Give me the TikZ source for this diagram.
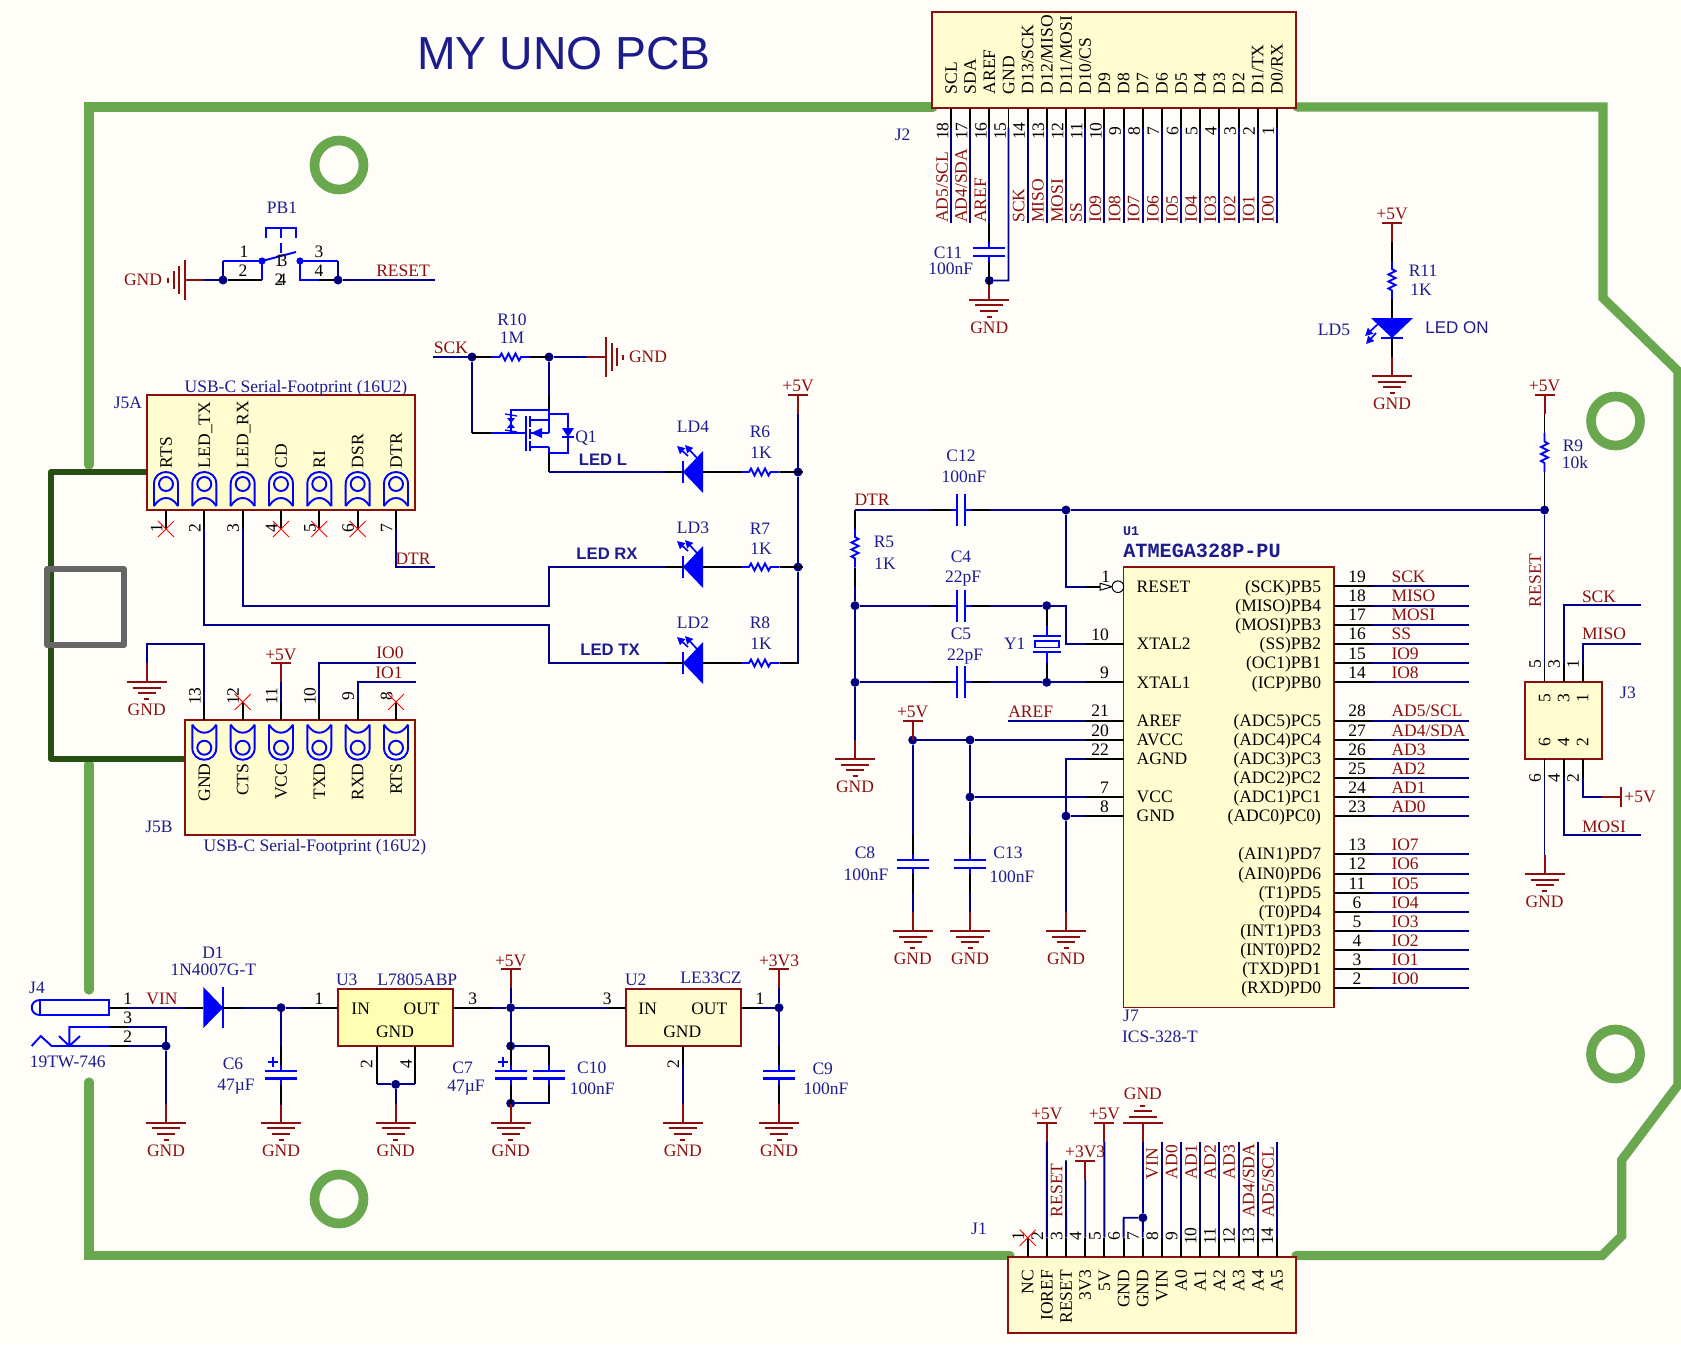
\documentclass[tikz,border=0pt]{standalone}
\usepackage{fontspec}
\setmainfont{Liberation Serif}
\setsansfont{Liberation Sans}
\setmonofont{Liberation Mono}
\usetikzlibrary{arrows.meta}
\definecolor{bgc}{HTML}{FFFDF8}
\definecolor{boardc}{HTML}{6AA84F}
\definecolor{usbc}{HTML}{274E13}
\definecolor{grayc}{HTML}{666666}
\definecolor{wirec}{HTML}{00008B}
\definecolor{dotc}{HTML}{000080}
\definecolor{desc}{HTML}{1C1C8C}
\definecolor{redc}{HTML}{8B0F0F}
\definecolor{bodyc}{HTML}{FFFDD0}
\definecolor{bodyu}{HTML}{FFFFB4}
\definecolor{symc}{HTML}{0000FF}
\newcount\nidc
\newcommand{\Txt}[4][des]{\global\advance\nidc by 1 \node[#1] (t\the\nidc) at (#2,#3) {#4};}
\newcommand{\Cpt}[3]{\coordinate (#1) at (#2,#3);}
\newcommand{\Jn}[3]{\node[junction] (#1) at (#2,#3) {};}
\newcommand{\Bdy}[6][bodybox]{\node[#1,minimum width={(#5-#3)*0.6pt},minimum height={(#6-#4)*0.6pt}] (#2) at ({(#3+#5)/2},{(#4+#6)/2}) {};}
\newcommand{\Rcomp}[4]{\begin{scope}[shift={(#2,#3)},rotate=#4]
 \draw[sym,line join=miter] (-19.5,0)--(-11,0)--(-9,-3.5)--(-5.5,3.5)--(-2,-3.5)--(1.5,3.5)--(5,-3.5)--(8.5,3.5)--(10.5,0)--(19.5,0);
 \coordinate (#1-a) at (-38.5,0);\coordinate (#1-b) at (38.5,0);\coordinate (#1-c) at (-19.5,0);\coordinate (#1-d) at (19.5,0);
 \draw[pinl] (#1-a)--(#1-c) (#1-d)--(#1-b);
 \end{scope}}
\newcommand{\Ccomp}[4]{\begin{scope}[shift={(#2,#3)},rotate=#4]
 \draw[sym,line width=1.3pt] (-3.9,-16)--(-3.9,16) (3.9,-16)--(3.9,16);
 \draw[sym] (-3.9,0)--(-10,0) (3.9,0)--(10,0);
 \coordinate (#1-a) at (-29,0);\coordinate (#1-b) at (29,0);\coordinate (#1-c) at (-10,0);\coordinate (#1-d) at (10,0);
 \draw[pinl] (#1-a)--(#1-c) (#1-d)--(#1-b);
 \end{scope}}
\newcommand{\LEDc}[4]{\begin{scope}[shift={(#2,#3)},rotate=#4]
 \fill[symc] (0,0)--(20,-21)--(20,21)--cycle;
 \draw[sym] (0,-11)--(0,11);
 \draw[ledarrow] (5,-16)--(-6,-26);
 \draw[ledarrow] (14,-14)--(2,-27);
 \coordinate (#1-a) at (-18,0);\coordinate (#1-b) at (39,0);\coordinate (#1-c) at (0,0);\coordinate (#1-d) at (20,0);
 \draw[pinl] (#1-a)--(#1-c) (#1-d)--(#1-b);
 \end{scope}}
\newcommand{\GndS}[4]{\begin{scope}[shift={(#2,#3)},rotate=#4]
 \draw[pwrl] (0,-19)--(0,0) (-20,0)--(20,0) (-14,5.7)--(14,5.7) (-9,11.4)--(9,11.4) (-2.5,17)--(2.5,17);
 \coordinate (#1-t) at (0,-19);
 \end{scope}}
\newcommand{\Gnd}[3]{\GndS{#1}{#2}{#3}{0}\node[netl] (#1-l) at (#2,{#3+28}) {GND};}
\newcommand{\Pwr}[4]{\draw[pwrl] ({#2-10},#3)--({#2+10},#3) (#2,#3)--(#2,{#3+19});\coordinate (#1-t) at (#2,{#3+19});\node[netl] (#1-l) at (#2,{#3-9}) {#4};}
\newcommand{\XX}[2]{\draw[xmark] ({#1-8},{#2-8})--({#1+8},{#2+8}) ({#1-8},{#2+8})--({#1+8},{#2-8});}
\newcommand{\PadS}[2]{\begin{scope}[shift={(#1,#2)}]
 \draw[sym] (0,0) circle[radius=7];
 \draw[sym] (-12,22)--(-12,0) .. controls (-12,-8) and (-6,-12) .. (0,-12) .. controls (6,-12) and (12,-8) .. (12,0)--(12,22);
 \draw[sym] (-12,22) .. controls (-8,16) and (-4,14) .. (0,14) .. controls (4,14) and (8,16) .. (12,22);
 \end{scope}}
\newcommand{\PadF}[2]{\begin{scope}[shift={(#1,#2)},yscale=-1]
 \draw[sym] (0,0) circle[radius=7];
 \draw[sym] (-12,23)--(-12,0) .. controls (-12,-8) and (-6,-12) .. (0,-12) .. controls (6,-12) and (12,-8) .. (12,0)--(12,23);
 \draw[sym] (-12,23) .. controls (-8,17) and (-4,15) .. (0,15) .. controls (4,15) and (8,17) .. (12,23);
 \end{scope}}
\tikzset{
 base/.style={inner sep=0pt,outer sep=0pt,text height=6.9pt,text depth=0pt,font=\fontsize{10.5}{12}\selectfont},
 des/.style={base,text=desc},
 netl/.style={base,text=redc},
 pinn/.style={base,text=black},
 wire/.style={draw=wirec,line width=1.15pt,line join=miter},
 pinl/.style={draw=black,line width=1.15pt},
 pwrl/.style={draw=redc,line width=1.2pt},
 sym/.style={draw=symc,line width=1.15pt},
 ledarrow/.style={draw=symc,line width=1pt,-{Triangle[length=4.6pt,width=4.6pt]}},
 xmark/.style={draw=red,line width=.5pt},
 junction/.style={circle,fill=dotc,inner sep=0pt,outer sep=0pt,minimum size=5.4pt},
 bodybox/.style={draw=redc,fill=bodyc,line width=1.3pt,inner sep=0pt,outer sep=0pt},
 thinbox/.style={draw=redc,fill=bodyc,line width=.8pt,inner sep=0pt,outer sep=0pt},
 board/.style={draw=boardc,line width=5.5pt,line cap=round,line join=miter},
 usb/.style={draw=usbc,line width=3.6pt,line cap=round,line join=round},
 usbgray/.style={draw=grayc,line width=3.2pt,line join=round},
 hole/.style={circle,draw=boardc,line width=5.8pt,minimum size=29.4pt,inner sep=0pt,outer sep=0pt},
 title/.style={inner sep=0pt,outer sep=0pt,text=desc,font=\sffamily\fontsize{27.8}{30}\selectfont},
 ledlab/.style={inner sep=0pt,outer sep=0pt,text=desc,text height=6.9pt,text depth=0pt,font=\sffamily\bfseries\fontsize{10}{12}\selectfont},
 ledon/.style={inner sep=0pt,outer sep=0pt,text=desc,text height=6.9pt,text depth=0pt,font=\sffamily\fontsize{10.2}{12}\selectfont},
 mono/.style={inner sep=0pt,outer sep=0pt,text=desc,font=\ttfamily\bfseries\fontsize{12.1}{13}\selectfont},
 monos/.style={inner sep=0pt,outer sep=0pt,text=desc,font=\ttfamily\bfseries\fontsize{8}{9}\selectfont},
}
\begin{document}
\begin{tikzpicture}[x=0.6pt,y=-0.6pt]
\useasboundingbox (0,0) rectangle (1681,1344);
\clip (0,0) rectangle (1681,1344);
\fill[bgc] (0,0) rectangle (1681,1344);
% ---- board outline
\Cpt{bA}{89}{465}\Cpt{bB}{89}{107}\Cpt{bC}{933}{107}\Cpt{bD}{1297}{107}\Cpt{bE}{1603}{107}\Cpt{bF}{1603}{298}\Cpt{bG}{1678}{371}\Cpt{bH}{1678}{1085}\Cpt{bI}{1621.7}{1160}\Cpt{bJ}{1621.7}{1236}\Cpt{bK}{1602}{1255.5}\Cpt{bL}{1296}{1255.5}\Cpt{bM}{1010}{1255.5}\Cpt{bN}{89}{1255.5}\Cpt{bO}{89}{1082}\Cpt{bP}{89}{990}\Cpt{bQ}{89}{764}
\draw[board] (bA)--(bB)--(bC);
\draw[board] (bD)--(bE)--(bF)--(bG)--(bH)--(bI)--(bJ)--(bK)--(bL);
\draw[board] (bM)--(bN)--(bO);
\draw[board] (bP)--(bQ);
\node[hole] (h1) at (339,165) {};
\node[hole] (h2) at (1615.5,421) {};
\node[hole] (h3) at (1615.5,1054) {};
\node[hole] (h4) at (339,1199) {};
\begin{scope}[shift={(0,1)}]
\node[title] (ttl) at (564,53) {MY UNO PCB};
% ---- USB outline
\Cpt{uA}{147}{471}\Cpt{uB}{51}{471}\Cpt{uC}{51}{758}\Cpt{uD}{186}{758}
\draw[usb] (uA)--(uB)--(uC)--(uD);
\draw[usbgray] (47,568) rectangle (124,644);
% ---- boxes
\Bdy{J5A}{147}{394}{415}{509}
\Bdy{J5B}{185}{719.3}{415}{834.3}
\Bdy{J2}{931.7}{11}{1296}{107.3}
\Bdy{J1}{1008}{1255.7}{1296}{1331.7}
\Bdy{J3}{1525}{681}{1602}{758}
\Bdy[thinbox]{J7}{1123.7}{566}{1334}{1006.7}
\Bdy[bodybox,fill=bodyu]{U3}{338.3}{987.7}{453.3}{1045}
\Bdy{U2}{625.7}{987.7}{740.7}{1045}
% ---- junctions
\Jn{jPBl}{223}{279}\Jn{jPBr}{338}{279}\Jn{jSCK}{472}{356}\Jn{jR10}{549}{356}
\Jn{j5Va}{798}{471}\Jn{j5Vb}{798}{566}\Jn{jDTRa}{1066}{509}\Jn{jDTRb}{1544.5}{509}
\Jn{jC4}{855}{604.7}\Jn{jC5}{855}{681.3}\Jn{jY1t}{1046.7}{604.7}\Jn{jY1b}{1046.7}{681.3}
\Jn{j5Vc}{912.7}{739}\Jn{jAV}{970}{739}\Jn{jVCC}{970}{796}\Jn{jGa}{1066}{815}
\Jn{jC11}{989.3}{279.5}\Jn{jJ1}{1142.9}{1216.7}\Jn{jJ4}{166}{1045}\Jn{jC6}{281}{1006.7}
\Jn{jU3}{395.7}{1083.3}\Jn{j5Vd}{510.7}{1006.7}\Jn{jC7t}{510.7}{1045}\Jn{jC7b}{510.7}{1102.3}\Jn{j3V3}{779}{1006.7}
% ---- PB1
\Txt{282}{207}{PB1}
\draw[sym] (266,237)--(266,227)--(296,227)--(296,237);
\draw[sym,dashed,dash pattern=on 6pt off 3pt] (281,227)--(281,256);
\fill[symc] (262,260) circle[radius=3.6];
\fill[symc] (300,260) circle[radius=3.6];
\draw[sym] (262,260)--(296,251);
\Cpt{pbA}{262}{260}\Cpt{pbB}{262}{279}\Cpt{pbC}{223}{260}\Cpt{pbD}{300}{260}\Cpt{pbE}{300}{279}\Cpt{pbF}{338}{260}\Cpt{pbG}{319}{279}
\draw[sym] (pbC)--(pbA)--(pbB);
\draw[pinl] (pbB)--(jPBl);
\draw[wire] (jPBl)--(pbC);
\draw[sym] (pbG)--(pbE)--(pbD)--(pbF);
\draw[wire] (pbF)--(jPBr);
\draw[pinl] (pbG)--(jPBr);
\Txt[pinn]{244}{251}{1}\Txt[pinn]{243}{270}{2}\Txt[pinn]{319}{251}{3}\Txt[pinn]{319}{270}{4}
\Txt[pinn]{279}{260}{1}\Txt[pinn]{283}{260}{3}\Txt[pinn]{279}{279}{2}\Txt[pinn]{282}{279}{4}
\GndS{gPB}{185}{279}{-90}
\Txt[netl]{143}{279}{GND}
\draw[wire] (gPB-t)--(jPBl);
\Cpt{rstE}{435}{279}
\draw[wire] (jPBr)--(rstE);
\Txt[netl]{403}{270}{RESET}
% ---- J5A
\Txt[des]{128}{402}{J5A}
\Txt[des]{296}{386}{USB-C Serial-Footprint (16U2)}
\foreach \i/\x/\nm in {1/166/RTS,2/204.3/LED\_TX,3/242.7/LED\_RX,4/281/CD,5/319.3/RI,6/357.7/DSR,7/396/DTR}{
 \PadS{\x}{483}
 \Txt[pinn,rotate=90,anchor=west]{\x}{467}{\nm}
 \Cpt{J5Ap\i}{\x}{509}\Cpt{J5Ae\i}{\x}{528}
 \draw[pinl] (J5Ap\i)--(J5Ae\i);
 \Txt[pinn,rotate=90]{\x-9.5}{527}{\i}
}
\XX{166}{528}\XX{281}{528}\XX{319.3}{528}\XX{357.7}{528}
\Cpt{dtrA}{396}{566}\Cpt{dtrB}{435}{566}
\draw[wire] (J5Ae7)--(dtrA)--(dtrB);
\Txt[netl]{413}{558}{DTR}
% ---- J5B
\Txt[des]{159}{825.7}{J5B}
\Txt[des]{315}{845}{USB-C Serial-Footprint (16U2)}
\foreach \i/\x/\nm in {13/204.3/GND,12/242.7/CTS,11/281/VCC,10/319.3/TXD,9/357.7/RXD,8/396/RTS}{
 \PadF{\x}{746.7}
 \Txt[pinn,rotate=90,anchor=east]{\x}{762.7}{\nm}
 \Cpt{J5Bp\i}{\x}{719.3}\Cpt{J5Be\i}{\x}{701}
 \draw[pinl] (J5Bp\i)--(J5Be\i);
 \Txt[pinn,rotate=90]{\x-9.5}{695}{\i}
}
\XX{242.7}{701}\XX{396}{701}
\Gnd{g13}{146.7}{681}
\Cpt{g13a}{146.7}{642.7}\Cpt{g13b}{204.3}{642.7}
\draw[wire] (J5Be13)--(g13b)--(g13a)--(g13-t);
\Pwr{pJ5}{281}{662.3}{+5V}
\draw[wire] (J5Be11)--(pJ5-t);
\Cpt{io0a}{319.3}{662.3}\Cpt{io0b}{415.7}{662.3}\Cpt{io1a}{357.7}{681}\Cpt{io1b}{415.7}{681}
\draw[wire] (J5Be10)--(io0a)--(io0b);
\draw[wire] (J5Be9)--(io1a)--(io1b);
\Txt[netl]{390}{652}{IO0}\Txt[netl]{389}{672}{IO1}
% ---- Q1 and LEDs
\Rcomp{R10}{510.5}{356}{0}
\Txt{512}{319}{R10}\Txt{512}{337}{1M}
\draw[wire] (jSCK)--(R10-a);
\draw[wire] (R10-b)--(jR10);
\Cpt{sckE}{433}{356}\draw[wire] (sckE)--(jSCK);
\Txt[netl]{451}{347}{SCK}
\GndS{gR10}{606}{356}{90}
\Txt[netl]{648}{356}{GND}
\draw[wire] (jR10)--(gR10-t);
\Cpt{qG}{472}{432}\Cpt{qH}{491}{432}\Cpt{qD}{549}{395}\Cpt{qDb}{549}{409}\Cpt{qS}{549}{452}\Cpt{qSb}{549}{471}
\draw[wire] (jSCK)--(qG);
\draw[pinl] (qG)--(qH);
\draw[wire] (jR10)--(qD);
\draw[pinl] (qD)--(qDb);
\draw[pinl] (qS)--(qSb);
\draw[sym] (qH)--(526,432) (526,415)--(526,450);
\draw[sym] (530,415)--(530,426) (530,428)--(530,438) (530,440)--(530,450);
\draw[sym] (530,419)--(549,419) (530,446)--(549,446) (530,432)--(549,432);
\draw[sym] (qDb)--(549,432) (549,446)--(qS);
\fill[symc] (531,432)--(542,427)--(542,437)--cycle;
\draw[sym] (549,413)--(568,413)--(568,452)--(549,452);
\fill[symc] (562,427)--(574,427)--(568,436)--cycle;
\draw[sym] (562,436)--(574,436);
\draw[sym] (qDb)--(511,409)--(511,432);
\fill[symc] (507,417)--(515,417)--(511,422)--cycle;
\fill[symc] (507,427)--(515,427)--(511,422)--cycle;
\draw[sym,line width=.8pt] (505,413)--(517,415) (505,429)--(517,431);
\Txt{586}{436}{Q1}
\Pwr{p5A}{798}{394}{+5V}
\LEDc{LD4}{683}{471}{0}\LEDc{LD3}{683}{566}{0}\LEDc{LD2}{683}{662}{0}
\Rcomp{R6}{760}{471}{0}\Rcomp{R7}{760}{566}{0}\Rcomp{R8}{760}{662}{0}
\Txt{693}{426}{LD4}\Txt{760}{431}{R6}\Txt{761}{452}{1K}
\Txt{693}{527}{LD3}\Txt{760}{528}{R7}\Txt{761}{548}{1K}
\Txt{693}{622}{LD2}\Txt{760}{622}{R8}\Txt{761}{643}{1K}
\Txt[ledlab]{603}{459}{LED L}\Txt[ledlab]{607}{553}{LED RX}\Txt[ledlab]{610}{649}{LED TX}
\draw[wire] (qSb)--(LD4-a);
\draw[pinl] (LD4-b)--(R6-a);\draw[pinl] (LD3-b)--(R7-a);\draw[pinl] (LD2-b)--(R8-a);
\draw[pinl] (R6-b)--(j5Va);\draw[pinl] (R7-b)--(j5Vb);
\Cpt{r8e}{798}{662}
\draw[pinl] (R8-b)--(r8e);
\draw[wire] (p5A-t)--(j5Va);\draw[wire] (j5Va)--(j5Vb);\draw[wire] (j5Vb)--(r8e);
\Cpt{w3a}{242.7}{605}\Cpt{w3b}{549}{605}\Cpt{w3c}{549}{566}
\draw[wire] (J5Ae3)--(w3a)--(w3b)--(w3c)--(LD3-a);
\Cpt{w2a}{204.3}{624}\Cpt{w2b}{549}{624}\Cpt{w2c}{549}{662}
\draw[wire] (J5Ae2)--(w2a)--(w2b)--(w2c)--(LD2-a);
% ---- LD5
\Pwr{pLD5}{1392}{222}{+5V}
\Rcomp{R11}{1392}{279}{-90}
\LEDc{LD5}{1392}{337}{90}
\Gnd{gLD5}{1392}{375}
\draw[pinl] (pLD5-t)--(R11-a);
\draw[wire] (LD5-a)--(gLD5-t);
\Txt{1423}{270}{R11}\Txt{1421}{289}{1K}\Txt{1334}{329}{LD5}\Txt[ledon]{1457}{327}{LED ON}
% ---- J2
\Txt{902.7}{134}{J2}
\foreach \n/\nm/\nt [count=\k from 0] in {18/SCL/{AD5/SCL},17/SDA/{AD4/SDA},16/AREF/AREF,15/GND/{},14/{D13/SCK}/SCK,13/{D12/MISO}/MISO,12/{D11/MOSI}/MOSI,11/{D10/CS}/SS,10/D9/IO9,9/D8/IO8,8/D7/IO7,7/D6/IO6,6/D5/IO5,5/D4/IO4,4/D3/IO3,3/D2/IO2,2/{D1/TX}/IO1,1/{D0/RX}/IO0}{
 \pgfmathsetmacro\xx{951+19.17*\k}
 \Txt[pinn,rotate=90,anchor=west]{\xx}{93}{\nm}
 \Txt[pinn,rotate=90]{\xx-8.5}{130}{\n}
 \Cpt{J2p\n}{\xx}{107.3}\Cpt{J2e\n}{\xx}{126.5}\Cpt{J2w\n}{\xx}{221.7}
 \draw[pinl] (J2p\n)--(J2e\n);
 \ifnum\n=15\relax\else
  \draw[wire] (J2e\n)--(J2w\n);
  \Txt[netl,rotate=90,anchor=west]{\xx-9}{221.7}{\nt}
 \fi
}
\Ccomp{C11}{989.3}{250.7}{-90}
\Txt{948}{251.7}{C11}\Txt{950.7}{268}{100nF}
\Gnd{gC11}{989.3}{298.5}
\draw[pinl] (C11-b)--(jC11);
\draw[wire] (jC11)--(gC11-t);
\Cpt{c15}{1008.5}{279.5}
\draw[wire] (J2e15)--(c15)--(jC11);
% ---- DTR / reset network
\Cpt{dtrL}{855}{509}
\Txt[netl]{872}{499}{DTR}
\Ccomp{C12}{961}{509}{0}\Ccomp{C4}{961}{604.7}{0}\Ccomp{C5}{961}{681.3}{0}
\Txt{961}{455}{C12}\Txt{964}{476}{100nF}
\Txt{961}{556}{C4}\Txt{963}{576}{22pF}
\Txt{961}{633}{C5}\Txt{965}{654}{22pF}
\draw[wire] (dtrL)--(C12-a);\draw[wire] (C12-b)--(jDTRa);\draw[wire] (jDTRa)--(jDTRb);
\Rcomp{R5}{855}{547}{-90}
\Txt{884}{541}{R5}\Txt{885}{563}{1K}
\draw[pinl] (dtrL)--(R5-a);
\draw[wire] (R5-b)--(jC4);\draw[wire] (jC4)--(jC5);
\draw[wire] (jC4)--(C4-a);\draw[wire] (jC5)--(C5-a);
\draw[wire] (C4-b)--(jY1t);\draw[wire] (C5-b)--(jY1b);
\Gnd{gR5}{855}{758}
\draw[wire] (jC5)--(gR5-t);
\Pwr{pR9}{1544.5}{394}{+5V}
\Rcomp{R9}{1544.5}{451.5}{-90}
\Txt{1573}{445}{R9}\Txt{1575}{462}{10k}
\draw[pinl] (pR9-t)--(R9-a);
\draw[pinl] (R9-b)--(jDTRb);
% Y1
\Cpt{y1a}{1046.7}{625}\Cpt{y1b}{1046.7}{635}\Cpt{y1c}{1046.7}{651}\Cpt{y1d}{1046.7}{662}
\draw[pinl] (jY1t)--(y1a);\draw[pinl] (jY1b)--(y1d);
\draw[sym] (y1a)--(y1b) (y1c)--(y1d);
\draw[sym] (1033,635)--(1060.5,635) (1033,651)--(1060.5,651);
\draw[sym] (1035,640)rectangle(1059,646.5);
\Txt{1014.7}{643}{Y1}
% ---- J7 left
\foreach \n/\y/\nm/\tx in {1/585.7/RESET/1105.7,10/643/XTAL2/1100,9/681.3/XTAL1/1104.5,21/719.7/AREF/1100,20/739/AVCC/1100,22/758/AGND/1100,7/796/VCC/1104.5,8/815/GND/1104.5}{
 \Txt[pinn,anchor=west]{1136.7}{\y}{\nm}
 \Txt[pinn]{\tx}{\y-9.5}{\n}
 \Cpt{J7L\n}{1123.7}{\y}\Cpt{J7M\n}{1086}{\y}
}
\foreach \n in {10,9,21,20,22,7,8}{\draw[pinl] (J7L\n)--(J7M\n);}
\Cpt{rsA}{1100}{585.7}\Cpt{rsB}{1112}{585.7}
\draw[pinl] (J7M1)--(rsA);
\draw[line width=.6pt,draw=black,fill=white] (1100,582.2)--(1112,585.7)--(1100,589.2)--cycle;
\draw[draw=black,line width=.6pt,fill=white] (1117.9,585.7) circle[radius=5.8];
\Cpt{rsC}{1066}{585.7}
\draw[wire] (jDTRa)--(rsC)--(J7M1);
\Cpt{xA}{1066}{604.7}\Cpt{xB}{1066}{643}
\draw[wire] (jY1t)--(xA)--(xB)--(J7M10);
\draw[wire] (jY1b)--(J7M9);
\Cpt{arE}{1008}{719.7}\draw[wire] (arE)--(J7M21);
\Txt[netl]{1030.7}{710.7}{AREF}
\Pwr{pC8}{912.7}{720}{+5V}
\draw[pwrl] (pC8-t)--(j5Vc);
\draw[wire] (j5Vc)--(jAV);\draw[wire] (jAV)--(J7M20);\draw[wire] (jAV)--(jVCC);\draw[wire] (jVCC)--(J7M7);
\Ccomp{C8}{912.7}{863}{-90}\Ccomp{C13}{970}{863}{-90}
\Txt{865}{852}{C8}\Txt{866}{874}{100nF}\Txt{1008}{852}{C13}\Txt{1012}{876}{100nF}
\Gnd{gC8}{912.7}{930}\Gnd{gC13}{970}{930}\Gnd{gAG}{1066}{930}
\draw[wire] (j5Vc)--(C8-a);\draw[wire] (jVCC)--(C13-a);
\draw[wire] (C8-b)--(gC8-t);\draw[wire] (C13-b)--(gC13-t);
\Cpt{agA}{1066}{758}
\draw[wire] (J7M22)--(agA)--(jGa);
\draw[wire] (jGa)--(J7M8);
\draw[wire] (jGa)--(gAG-t);
% ---- J7 right
\foreach \n/\y/\nm/\nt in {19/585.3/(SCK)PB5/SCK,18/604.7/(MISO)PB4/MISO,17/623.7/(MOSI)PB3/MOSI,16/642.7/(SS)PB2/SS,15/662/(OC1)PB1/IO9,14/681.3/(ICP)PB0/IO8,28/719.7/(ADC5)PC5/{AD5/SCL},27/739/(ADC4)PC4/{AD4/SDA},26/758/(ADC3)PC3/AD3,25/777/(ADC2)PC2/AD2,24/796/(ADC1)PC1/AD1,23/815/(ADC0)PC0)/AD0,13/853/(AIN1)PD7/IO7,12/872.7/(AIN0)PD6/IO6,11/892/(T1)PD5/IO5,6/911/(T0)PD4/IO4,5/930/(INT1)PD3/IO3,4/949/(INT0)PD2/IO2,3/968/(TXD)PD1/IO1,2/987/(RXD)PD0/IO0}{
 \Txt[pinn,anchor=east]{1321}{\y}{\nm}
 \Txt[pinn]{1357}{\y-9.5}{\n}
 \Txt[netl,anchor=west]{1391.5}{\y-9.5}{\nt}
 \Cpt{J7R\n}{1334}{\y}\Cpt{J7S\n}{1372}{\y}\Cpt{J7T\n}{1468.5}{\y}
 \draw[pinl] (J7R\n)--(J7S\n);
 \draw[wire] (J7S\n)--(J7T\n);
}
\Txt[monos]{1131}{530}{U1}
\Txt[mono]{1202}{550}{ATMEGA328P-PU}
\Txt{1131}{1015}{J7}\Txt{1160}{1035.6}{ICS-328-T}
% ---- J3
\Txt{1628}{692}{J3}
\foreach \n/\x/\d/\y/\ty/\e in {5/1544.5/5/681/697/663,3/1563.7/3/681/697/663,1/1582.6/1/681/697/663,6/1544.5/6/758/741/777,4/1563.7/4/758/741/777,2/1582.6/2/758/741/777}{
 \Txt[pinn,rotate=90]{\x}{\ty}{\d}
 \Txt[pinn,rotate=90]{\x-9.5}{\e}{\d}
 \Cpt{J3p\n}{\x}{\y}\Cpt{J3e\n}{\x}{\e}
 \draw[pinl] (J3p\n)--(J3e\n);
}
\draw[wire] (jDTRb)--(J3e5);
\Txt[netl,rotate=90,anchor=west]{1535}{606}{RESET}
\Cpt{j3a}{1563.7}{604}\Cpt{j3b}{1641}{604}\Cpt{j1a}{1582.6}{643}\Cpt{j1b}{1641}{643}\Cpt{j4a}{1563.7}{834}\Cpt{j4b}{1641}{834}\Cpt{j2a}{1582.6}{796}\Cpt{j2b}{1602}{796}\Cpt{j2c}{1621}{796}
\draw[wire] (J3e3)--(j3a)--(j3b);
\draw[wire] (J3e1)--(j1a)--(j1b);
\draw[wire] (J3e4)--(j4a)--(j4b);
\draw[wire] (J3e2)--(j2a)--(j2b);
\draw[pwrl] (j2b)--(j2c) (1621,786)--(1621,806);
\Txt[netl]{1640}{796}{+5V}
\Txt[netl]{1599}{596}{SCK}\Txt[netl]{1604}{633}{MISO}\Txt[netl]{1604}{826}{MOSI}
\Gnd{gJ3}{1544.5}{873}
\draw[wire] (J3e6)--(gJ3-t);
% ---- J1
\Txt{979}{1227.7}{J1}
\foreach \n/\nm [count=\k from 0] in {1/NC,2/IOREF,3/RESET,4/3V3,5/5V,6/GND,7/GND,8/VIN,9/A0,10/A1,11/A2,12/A3,13/A4,14/A5}{
 \pgfmathsetmacro\xx{1027.7+19.17*\k}
 \Txt[pinn,rotate=90,anchor=east]{\xx}{1269}{\nm}
 \Txt[pinn,rotate=90]{\xx-9.5}{1235}{\n}
 \Cpt{J1p\n}{\xx}{1255.7}\Cpt{J1e\n}{\xx}{1236.7}\Cpt{J1w\n}{\xx}{1140.7}
 \draw[pinl] (J1p\n)--(J1e\n);
}
\XX{1027.7}{1236.7}
\Pwr{pJ1a}{1046.9}{1121.7}{+5V}
\Pwr{pJ1b}{1104.4}{1121.7}{+5V}
\Pwr{pJ1c}{1085.2}{1160}{+3V3}
\GndS{gJ1}{1142.9}{1121.7}{180}
\Txt[netl]{1142.9}{1093}{GND}
\Cpt{rs1}{1066}{1159.3}
\draw[wire] (J1e2)--(pJ1a-t);
\draw[wire] (J1e3)--(rs1);
\draw[wire] (J1e4)--(pJ1c-t);
\draw[wire] (J1e5)--(pJ1b-t);
\Cpt{j16}{1123.7}{1216.7}
\draw[wire] (J1e6)--(j16)--(jJ1);
\draw[wire] (J1e7)--(jJ1);
\draw[wire] (jJ1)--(gJ1-t);
\foreach \n in {8,9,10,11,12,13,14}{\draw[wire] (J1e\n)--(J1w\n);}
\Txt[netl,rotate=90,anchor=west]{1056.7}{1216}{RESET}
\foreach \t/\x/\y in {VIN/1152/1178,AD0/1171.7/1178,AD1/1191/1178,AD2/1210/1178,AD3/1229/1178,{AD4/SDA}/1248.7/1216.7,{AD5/SCL}/1268/1216.7}{
 \Txt[netl,rotate=90,anchor=west]{\x}{\y}{\t}
}
% ---- J4 and input
\Txt{37}{987}{J4}\Txt{67.7}{1060.7}{19TW-746}
\draw[sym] (40,999) rectangle (109,1014);
\draw[sym] (40,999) .. controls (29,999) and (29,1014) .. (40,1014);
\Cpt{j4p1}{109}{1006.7}\Cpt{j4e1}{127.7}{1006.7}\Cpt{j4p3}{109}{1026}\Cpt{j4e3}{127.7}{1026}\Cpt{j4p2}{109}{1045}\Cpt{j4e2}{127.7}{1045}\Cpt{j4c}{166}{1026}
\draw[pinl] (j4p1)--(j4e1);\draw[pinl] (j4p3)--(j4e3);\draw[pinl] (j4p2)--(j4e2);
\draw[sym] (j4p3)--(69.3,1026)--(69.3,1045) (59,1035)--(69.3,1045)--(80,1035);
\draw[sym] (31.7,1045)--(40.7,1035)--(51.7,1045)--(j4p2);
\draw[wire] (j4e3)--(j4c)--(jJ4);
\draw[wire] (j4e2)--(jJ4);
\Gnd{gJ4}{166}{1121.7}
\draw[wire] (jJ4)--(gJ4-t);
\Txt[pinn]{127.7}{997.7}{1}\Txt[pinn]{127.7}{1016.7}{3}\Txt[pinn]{127.7}{1035.7}{2}
\Txt[netl]{162}{997.7}{VIN}
\Cpt{d1a}{185}{1006.7}\Cpt{d1b}{203.3}{1006.7}\Cpt{d1c}{223.3}{1006.7}\Cpt{d1d}{242.3}{1006.7}
\fill[symc] (203.3,986)--(223.3,1006.7)--(203.3,1027)--cycle;
\draw[sym] (223.3,986)--(223.3,1027);
\draw[pinl] (d1a)--(d1b);\draw[pinl] (d1c)--(d1d);
\draw[wire] (j4e1)--(d1a);\draw[wire] (d1d)--(jC6);
\Txt{213}{951.7}{D1}\Txt{213.3}{969}{1N4007G-T}
\Ccomp{C6}{281}{1073.6}{-90}
\Gnd{gC6}{281}{1121.7}
\draw[wire] (jC6)--(C6-a);\draw[wire] (C6-b)--(gC6-t);
\draw[sym] (268,1060.7)--(277.5,1060.7) (272.7,1056)--(272.7,1065.5);
\Txt{233}{1062.7}{C6}\Txt{236}{1083.3}{47µF}
% ---- U3
\Txt{346.7}{979}{U3}\Txt{417.3}{979}{L7805ABP}
\Txt[pinn]{360.7}{1007.3}{IN}\Txt[pinn]{421.7}{1007.3}{OUT}\Txt[pinn]{395}{1031}{GND}
\Cpt{u3i}{338.3}{1006.7}\Cpt{u3ie}{300.7}{1006.7}\Cpt{u3o}{453.3}{1006.7}\Cpt{u3oe}{491}{1006.7}
\draw[pinl] (u3i)--(u3ie);\draw[pinl] (u3o)--(u3oe);
\draw[wire] (jC6)--(u3ie);\draw[wire] (u3oe)--(j5Vd);
\Txt[pinn]{319}{997.7}{1}\Txt[pinn]{472.7}{997.7}{3}
\Cpt{u3a}{376.7}{1045}\Cpt{u3b}{376.7}{1083.3}\Cpt{u3c}{415}{1045}\Cpt{u3d}{415}{1083.3}
\draw[pinl] (u3a)--(u3b);\draw[pinl] (u3c)--(u3d);
\draw[wire] (u3b)--(jU3);\draw[wire] (jU3)--(u3d);
\Txt[pinn,rotate=90]{366.7}{1063}{2}\Txt[pinn,rotate=90]{406}{1063}{4}
\Gnd{gU3}{395.7}{1121.7}
\draw[wire] (jU3)--(gU3-t);
% ---- +5V rail, C7, C10
\Pwr{p5U}{510.7}{968.3}{+5V}
\draw[wire] (p5U-t)--(j5Vd);
\draw[wire] (j5Vd)--(jC7t);
\Ccomp{C7}{510.7}{1073.6}{-90}\Ccomp{C10}{549}{1073.6}{-90}
\draw[pinl] (jC7t)--(C7-a);\draw[pinl] (C7-b)--(jC7b);
\Cpt{c10a}{549}{1045}\Cpt{c10b}{549}{1102.3}
\draw[wire] (jC7t)--(c10a);\draw[pinl] (c10a)--(C10-a);
\draw[wire] (jC7b)--(c10b);\draw[pinl] (c10b)--(C10-b);
\Gnd{gC7}{510.7}{1121.7}
\draw[pwrl] (jC7b)--(gC7-t);
\draw[sym] (498,1060.7)--(507.5,1060.7) (502.7,1056)--(502.7,1065.5);
\Txt{462.7}{1066.7}{C7}\Txt{466}{1085}{47µF}\Txt{591.7}{1066.7}{C10}\Txt{592.3}{1087.3}{100nF}
% ---- U2
\Txt{635.7}{979}{U2}\Txt{711}{976.7}{LE33CZ}
\Txt[pinn]{647.7}{1007.3}{IN}\Txt[pinn]{709.3}{1007.3}{OUT}\Txt[pinn]{682.3}{1031}{GND}
\Cpt{u2i}{625.7}{1006.7}\Cpt{u2ie}{606.7}{1006.7}\Cpt{u2o}{740.7}{1006.7}\Cpt{u2oe}{760}{1006.7}\Cpt{u2g}{682.7}{1045}\Cpt{u2ge}{682.7}{1064}
\draw[pinl] (u2i)--(u2ie);\draw[pinl] (u2o)--(u2oe);\draw[pinl] (u2g)--(u2ge);
\draw[wire] (j5Vd)--(u2ie);\draw[wire] (u2oe)--(j3V3);
\Txt[pinn]{607.3}{997.7}{3}\Txt[pinn]{760}{997.7}{1}\Txt[pinn,rotate=90]{673.3}{1063}{2}
\Gnd{gU2}{682.7}{1121.7}
\draw[wire] (u2ge)--(gU2-t);
\Pwr{p3V}{779}{968.3}{+3V3}
\draw[wire] (p3V-t)--(j3V3);
\Ccomp{C9}{779}{1073.6}{-90}
\draw[wire] (j3V3)--(C9-a);
\Gnd{gC9}{779}{1121.7}
\draw[pwrl] (C9-b)--(gC9-t);
\Txt{822.7}{1068}{C9}\Txt{826}{1087.3}{100nF}
\end{scope}
\end{tikzpicture}
\end{document}
